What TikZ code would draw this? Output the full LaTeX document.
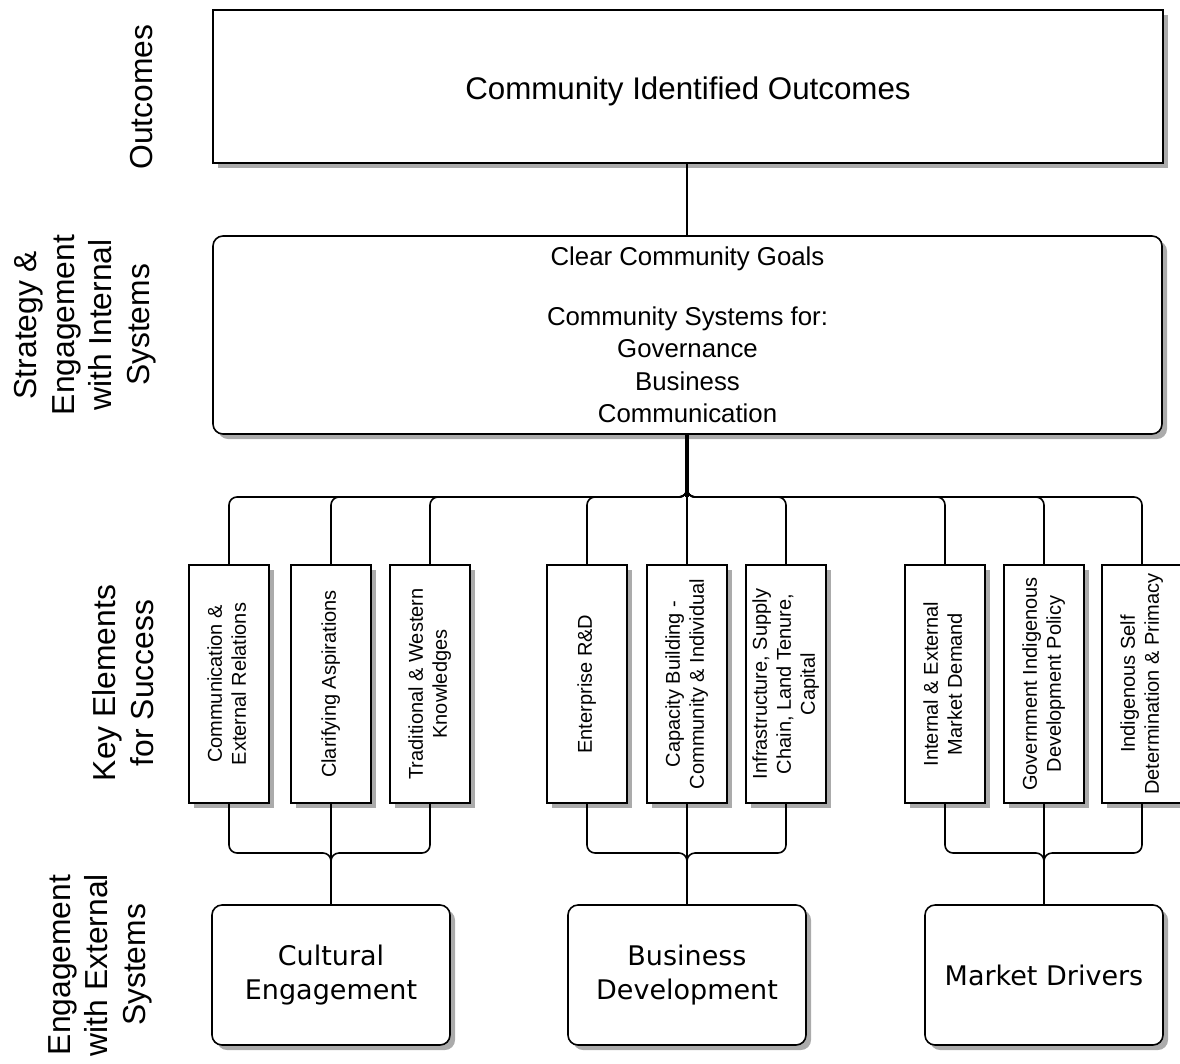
\documentclass[tikz,border=0pt]{standalone}
\usepackage{fontspec}
\usepackage{graphicx}
\setmainfont{Liberation Sans}
\newfontfamily\verdanafont{DejaVu Sans}
\usetikzlibrary{shadows}

\newcommand{\keytext}[1]{\rotatebox{90}{\fontsize{20}{24}\selectfont\begin{tabular}{@{}c@{}}#1\end{tabular}}}

\tikzset{
  boxshadow/.style={drop shadow={shadow xshift=5pt, shadow yshift=-5pt, fill=black!55, opacity=0.6}},
  outbox/.style={draw, fill=white, line width=1.8pt, minimum width=950pt, minimum height=153pt, font=\fontsize{31.3}{38}\selectfont, boxshadow},
  stratbox/.style={draw, fill=white, line width=1.6pt, rounded corners=10pt, minimum width=949pt, minimum height=198pt, align=center, font=\fontsize{25.8}{32.5}\selectfont, boxshadow},
  keybox/.style={draw, fill=white, line width=1.4pt, minimum width=80pt, minimum height=238pt, inner sep=0pt, boxshadow},
  extbox/.style={draw, fill=white, line width=1.6pt, rounded corners=10pt, minimum width=238pt, minimum height=140pt, align=center, font=\verdanafont\fontsize{27}{34}\selectfont, boxshadow},
  sidelabel/.style={rotate=90, align=center, font=\fontsize{31.8}{37.5}\selectfont},
  link/.style={line width=1.6pt, rounded corners=8pt},
  trunk/.style={line width=3.2pt},
}

\begin{document}
\begin{tikzpicture}[x=1pt, y=-1pt]
\useasboundingbox (0,0) rectangle (1180,1063);

% row labels
\node[sidelabel] (lout) at (142,97) {Outcomes};
\node[sidelabel] (lstrat) at (85,325) {Strategy \&\\Engagement\\with Internal\\Systems};
\node[sidelabel] (lkey) at (123,683) {Key Elements\\for Success};
\node[sidelabel] (lext) at (100,965) {Engagement\\with External\\Systems};

% outcome and strategy
\node[outbox] (out) at (688,86.5) {\raisebox{-12.5pt}[0pt][0pt]{Community Identified Outcomes}};
\node[stratbox] (strat) at (687.5,335) {Clear Community Goals\\[27.5pt]Community Systems for:\\Governance\\Business\\Communication};
\draw[line width=1.6pt] (out.south -| 687,0) -- (strat.north -| 687,0);

% key elements
\foreach \n/\x/\t in {ke1/229/{Communication \&\\External Relations},
                      ke2/331/{Clarifying Aspirations},
                      ke3/430/{Traditional \& Western\\Knowledges},
                      ke4/587/{Enterprise R\&D},
                      ke5/687/{Capacity Building -\\Community \& Individual},
                      ke6/786/{Infrastructure, Supply\\Chain, Land Tenure,\\Capital},
                      ke7/945/{Internal \& External\\Market Demand},
                      ke8/1044/{Government Indigenous\\Development Policy},
                      ke9/1142/{Indigenous Self\\Determination \& Primacy}}
  \node[keybox] (\n) at (\x,684) {\keytext{\t}};

% external systems
\node[extbox] (ce) at (331,975) {Cultural\\Engagement};
\node[extbox] (bd) at (687,975) {Business\\Development};
\node[extbox] (md) at (1044,975) {Market Drivers};

% fan out
\coordinate (split) at (687,497);
\draw[trunk] (strat.south -| split) -- (split);
\foreach \n in {ke1,ke2,ke3,ke4,ke6,ke7,ke8,ke9}
  \draw[link] (strat.south -| split) -- (split) -| (\n.north);
\draw[link] (split) -- (ke5.north);

% gather
\coordinate (join1) at (331,853);
\coordinate (join2) at (687,853);
\coordinate (join3) at (1044,853);
\foreach \a/\j/\b in {ke1/join1/ce, ke3/join1/ce, ke4/join2/bd, ke6/join2/bd, ke7/join3/md, ke9/join3/md}
  \draw[link] (\a.south) |- (\j) -- (\b.north);
\draw[line width=2.2pt] (ke2.south) -- (ce.north);
\draw[line width=2.2pt] (ke5.south) -- (bd.north);
\draw[line width=2.2pt] (ke8.south) -- (md.north);
\end{tikzpicture}
\end{document}
